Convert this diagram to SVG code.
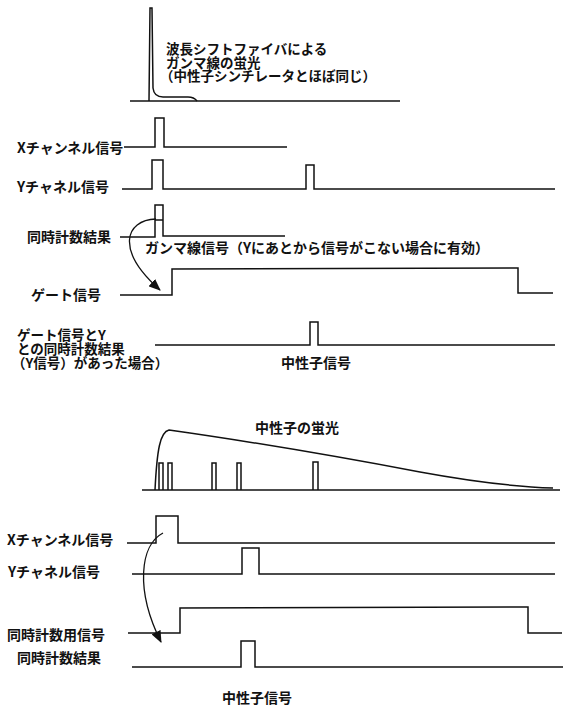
<svg xmlns="http://www.w3.org/2000/svg" width="571" height="713" viewBox="0 0 571 713">
<defs>
<marker id="ah" viewBox="0 0 12 10" refX="11" refY="5" markerWidth="12" markerHeight="10" markerUnits="userSpaceOnUse" orient="auto">
<path d="M0,0 L12,5 L0,10 Z" fill="#111"/>
</marker>
</defs>
<style>
.sig{fill:none;stroke:#111;stroke-width:1.5;stroke-linejoin:miter}
.lbl{font-family:"Noto Sans CJK JP","Noto Sans",sans-serif;font-size:14px;font-weight:bold;fill:#111}
.ml{font-size:13.5px}
.con{fill:none;stroke:#111;stroke-width:1.3}
</style>
<rect width="571" height="713" fill="#fff"/>

<g id="gamma-fluor">
<path class="sig" d="M130 101 L400 101"/>
<path class="sig" d="M149 101 L150 8 L152 8 L153 88 Q154 97 163 97 L188 97 Q194 97 197 101"/>
<text class="lbl ml" x="166" y="54"><tspan x="166" y="54">波長シフトファイバによる</tspan><tspan x="166" dy="13.5">ガンマ線の蛍光</tspan><tspan x="160" dy="13.5">（中性子シンチレータとほぼ同じ）</tspan></text>
</g>

<g id="x-ch-1">
<text class="lbl" x="17" y="153">Xチャンネル信号</text>
<path class="sig" d="M124 147 L155 147 L155 118 L164 118 L164 147 L287 147"/>
</g>

<g id="y-ch-1">
<text class="lbl" x="17" y="192">Yチャネル信号</text>
<path class="sig" d="M122 189 L152 189 L152 160 L163 160 L163 189 L306 189 L306 165 L314 165 L314 189 L555 189"/>
</g>

<g id="coinc-1">
<text class="lbl" x="27" y="242">同時計数結果</text>
<path class="sig" d="M120 237 L155 237 L155 205 L163 205 L163 236 L285 236"/>
<path class="sig" d="M155 220 L163 220"/>
</g>

<g id="gamma-label">
<text class="lbl" x="145" y="253">ガンマ線信号（Yにあとから信号がこない場合に有効）</text>
</g>

<g id="gate">
<text class="lbl" x="31" y="300">ゲート信号</text>
<path class="sig" d="M120 295 L172 295 L172 269 L518 268 L518 293 L553 293"/>
</g>

<g id="gate-y-coinc">
<text class="lbl ml" x="17" y="340"><tspan x="17" y="340">ゲート信号とY</tspan><tspan x="17" dy="14">との同時計数結果</tspan><tspan x="12" dy="14">（Y信号）があった場合）</tspan></text>
<path class="sig" d="M155 345 L310 345 L310 322 L318 322 L318 345 L555 345"/>
<text class="lbl" x="281" y="368">中性子信号</text>
</g>

<g id="neutron-fluor">
<text class="lbl" x="255" y="433">中性子の蛍光</text>
<path class="sig" d="M142 490 L560 490"/>
<path class="sig" d="M155 490 C157 450 160 432 169 430 C240 440 330 455 420 472 C480 483 520 487 553 488"/>
<path class="sig" d="M159 490 L159 463 L163 463 L163 490 M168 490 L168 463 L172 463 L172 490 M212 490 L212 463 L216 463 L216 490 M237 490 L237 463 L241 463 L241 490 M313 490 L313 462 L318 462 L318 490"/>
</g>

<g id="x-ch-2">
<text class="lbl" x="7" y="545">Xチャンネル信号</text>
<path class="sig" d="M127 543 L156 543 L156 516 L178 516 L178 543 L555 543"/>
</g>

<g id="y-ch-2">
<text class="lbl" x="8" y="577">Yチャネル信号</text>
<path class="sig" d="M132 574 L242 574 L242 548 L259 548 L259 574 L555 574"/>
</g>

<g id="coinc-sig-2">
<text class="lbl" x="7" y="640">同時計数用信号</text>
<path class="sig" d="M128 633 L180 633 L180 608 L528 607 L528 633 L562 633"/>
</g>

<g id="coinc-2">
<text class="lbl" x="17" y="663">同時計数結果</text>
<path class="sig" d="M132 667 L241 667 L241 641 L255 641 L255 667 L563 667"/>
<text class="lbl" x="222" y="703">中性子信号</text>
</g>

<g id="connectors">
<path class="con" d="M156 219 C125 220 115 250 160 290" marker-end="url(#ah)"/>
<path class="con" d="M163 533 C140 545 135 590 161 642" marker-end="url(#ah)"/>
</g>
</svg>
